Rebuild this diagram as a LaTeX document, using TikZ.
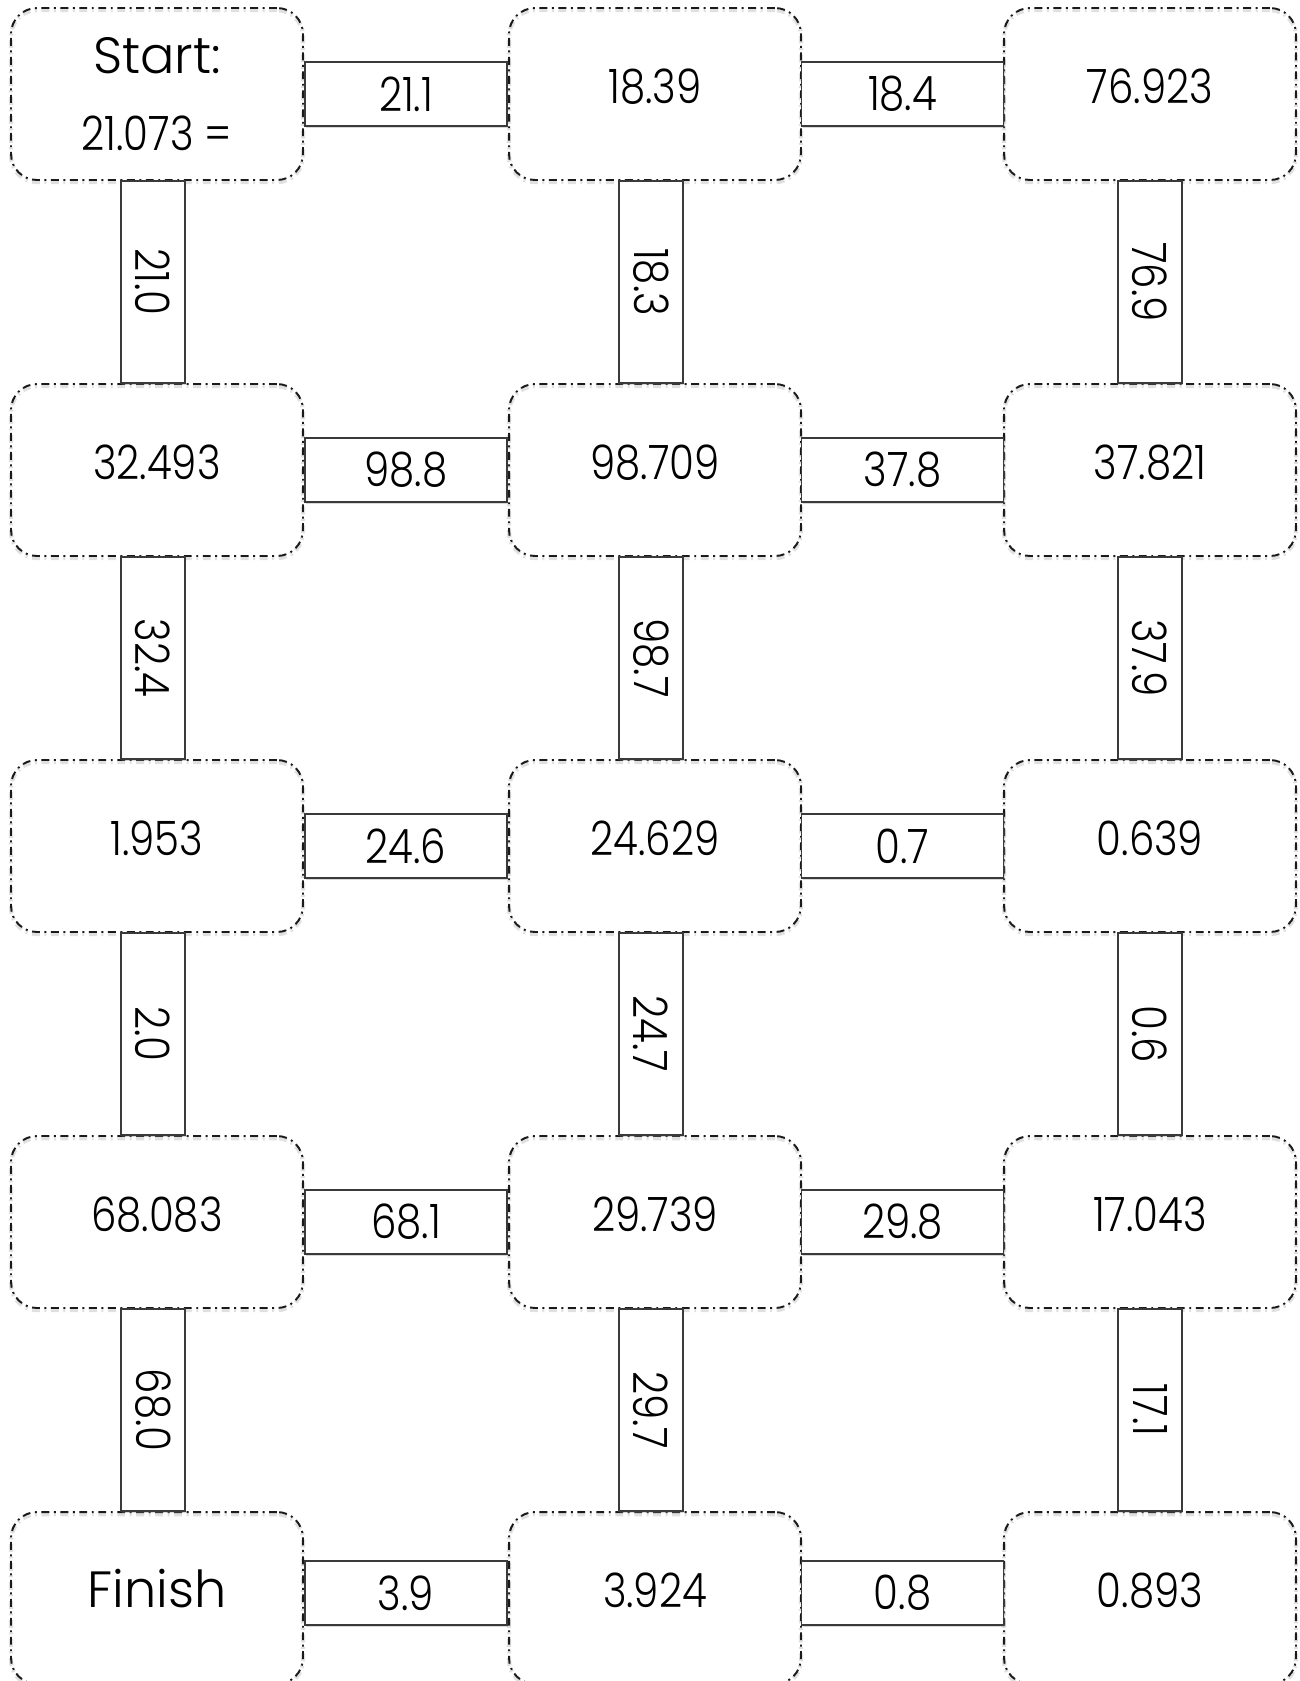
\documentclass[tikz,border=0pt]{standalone}
\usepackage{fontspec}
\usepackage{graphicx}
\newfontfamily\numfont{Poppins}[UprightFont=* Light, FakeStretch=0.85]
\newfontfamily\wordfont{Poppins}[UprightFont=* Light]
\usetikzlibrary{positioning,calc,shadows}
\definecolor{edge}{HTML}{1A1A1A}
\definecolor{linkd}{HTML}{3A3A3A}
\tikzset{
  % dash-dot rounded cell of the maze
  cell/.style     = {rectangle, rounded corners=0.52cm, draw=edge, line width=1.1pt,
                     dash pattern=on 4.5pt off 2.6pt on 1.1pt off 2.6pt,
                     preaction={draw=black!12, line width=2.4pt,
                                dash pattern=on 4.5pt off 2.6pt on 1.1pt off 2.6pt,
                                transform canvas={yshift=-1.2pt}},
                     minimum width=5.84cm, minimum height=3.44cm, inner sep=0pt,
                     align=center, font=\numfont\fontsize{27}{44}\selectfont, text depth=9pt},
  startcell/.style = {cell, text depth=},
  endcell/.style  = {cell, font=\wordfont\fontsize{29}{32}\selectfont, text depth=11pt},
  % answer strip between two cells
  link/.style     = {rectangle, draw=linkd, line width=1.1pt, fill=white, inner sep=0pt,
                     minimum width=4.04cm, minimum height=1.28cm,
                     font=\numfont\fontsize{27}{30}\selectfont,
                     drop shadow={shadow xshift=0.6pt, shadow yshift=-1.4pt, opacity=0.3}},
  vlink/.style    = {link, minimum width=1.28cm, minimum height=4.04cm},
}
\newcommand{\down}[1]{\rotatebox{-90}{#1}}

\begin{document}
\begin{tikzpicture}[x=0.02cm, y=-0.02cm]
\fill[white] (0,0) rectangle (1300,1681);
\useasboundingbox (0,0) rectangle (1300,1681);
% row 1
\node[startcell] (c11) at (157,94) {{\wordfont\fontsize{29}{32}\selectfont Start:}\\21.073 =};
\node[cell] (c12) at (655,94) {18.39};
\node[cell] (c13) at (1150,94) {76.923};
% row 2
\node[cell] (c21) at (157,470) {32.493};
\node[cell] (c22) at (655,470) {98.709};
\node[cell] (c23) at (1150,470) {37.821};
% row 3
\node[cell] (c31) at (157,846) {1.953};
\node[cell] (c32) at (655,846) {24.629};
\node[cell] (c33) at (1150,846) {0.639};
% row 4
\node[cell] (c41) at (157,1222) {68.083};
\node[cell] (c42) at (655,1222) {29.739};
\node[cell] (c43) at (1150,1222) {17.043};
% row 5
\node[endcell] (c51) at (157,1598) {Finish};
\node[cell] (c52) at (655,1598) {3.924};
\node[cell] (c53) at (1150,1598) {0.893};
% links across
\node[link] (h11) at ($(c11.east)!0.5!(c12.west)$) {21.1};
\node[link] (h12) at ($(c12.east)!0.5!(c13.west)$) {18.4};
\node[link] (h21) at ($(c21.east)!0.5!(c22.west)$) {98.8};
\node[link] (h22) at ($(c22.east)!0.5!(c23.west)$) {37.8};
\node[link] (h31) at ($(c31.east)!0.5!(c32.west)$) {24.6};
\node[link] (h32) at ($(c32.east)!0.5!(c33.west)$) {0.7};
\node[link] (h41) at ($(c41.east)!0.5!(c42.west)$) {68.1};
\node[link] (h42) at ($(c42.east)!0.5!(c43.west)$) {29.8};
\node[link] (h51) at ($(c51.east)!0.5!(c52.west)+(0,-5)$) {3.9};
\node[link] (h52) at ($(c52.east)!0.5!(c53.west)+(0,-5)$) {0.8};
% links down
\node[vlink] (v11) at ($(c11.south)!0.5!(c21.north)+(-4,0)$) {\down{21.0}};
\node[vlink] (v12) at ($(c12.south)!0.5!(c22.north)+(-4,0)$) {\down{18.3}};
\node[vlink] (v13) at ($(c13.south)!0.5!(c23.north)$) {\down{76.9}};
\node[vlink] (v21) at ($(c21.south)!0.5!(c31.north)+(-4,0)$) {\down{32.4}};
\node[vlink] (v22) at ($(c22.south)!0.5!(c32.north)+(-4,0)$) {\down{98.7}};
\node[vlink] (v23) at ($(c23.south)!0.5!(c33.north)$) {\down{37.9}};
\node[vlink] (v31) at ($(c31.south)!0.5!(c41.north)+(-4,0)$) {\down{2.0}};
\node[vlink] (v32) at ($(c32.south)!0.5!(c42.north)+(-4,0)$) {\down{24.7}};
\node[vlink] (v33) at ($(c33.south)!0.5!(c43.north)$) {\down{0.6}};
\node[vlink] (v41) at ($(c41.south)!0.5!(c51.north)+(-4,0)$) {\down{68.0}};
\node[vlink] (v42) at ($(c42.south)!0.5!(c52.north)+(-4,0)$) {\down{29.7}};
\node[vlink] (v43) at ($(c43.south)!0.5!(c53.north)$) {\down{17.1}};
\end{tikzpicture}
\end{document}
